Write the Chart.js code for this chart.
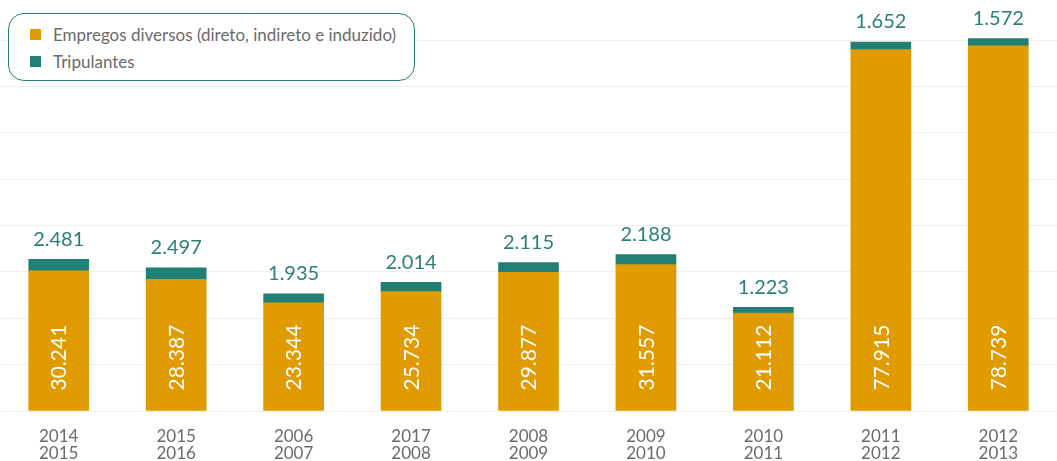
<!DOCTYPE html>
<html>
<head>
<meta charset="utf-8">
<script src="https://cdn.jsdelivr.net/npm/chart.js@4.4.1/dist/chart.umd.min.js"></script>
<style>
  body { margin: 0; background: #fff; }
  #wrap { position: relative; width: 1057px; height: 461px; }
  #legend {
    position: absolute; left: 8px; top: 13px; width: 407px; height: 68px;
    background: #fff; border: 1.5px solid #2a7f76; border-radius: 16px;
    font-family: Lato, sans-serif; font-size: 17px; color: #6b6b6b;
    box-sizing: border-box; padding-top: 7px;
  }
  .item { display: flex; align-items: center; height: 27px; padding-left: 21px; }
  .box { width: 11px; height: 11px; margin-right: 12px; }
</style>
</head>
<body>
<div id="wrap">
  <canvas id="myChart" width="1057" height="461"></canvas>
  <div id="legend"></div>
</div>
<script>
const periods = [
  ["2014", "2015"], ["2015", "2016"], ["2006", "2007"], ["2017", "2008"], ["2008", "2009"],
  ["2009", "2010"], ["2010", "2011"], ["2011", "2012"], ["2012", "2013"]
]
const seriesNames = ["Empregos diversos (direto, indireto e induzido)", "Tripulantes"]
const empregos = [30241, 28387, 23344, 25734, 29877, 31557, 21112, 77915, 78739]
const tripulantes = [2481, 2497, 1935, 2014, 2115, 2188, 1223, 1652, 1572]
const colors = ["#e09b00", "#217f74"]

function fmt(n){
    return String(n).replace(/\B(?=(\d{3})+(?!\d))/g, ".")
}

// legend box
const legend = document.getElementById("legend")
seriesNames.forEach((name, i) => {
    legend.innerHTML += `<div class="item"><span class="box" style="background:${colors[i]}"></span>${name}</div>`
})

const valueLabels = {
    id: "valueLabels",
    afterDatasetsDraw(chart){
        const ctx = chart.ctx
        ctx.save()
        chart.getDatasetMeta(0).data.forEach((bar, i) => {
            ctx.save()
            ctx.translate(bar.x, bar.base - 20)
            ctx.rotate(-Math.PI / 2)
            ctx.font = "21px Lato, sans-serif"
            ctx.fillStyle = "#ffffff"
            ctx.textAlign = "left"
            ctx.textBaseline = "middle"
            ctx.fillText(fmt(empregos[i]), 0, 1)
            ctx.restore()
        })
        chart.getDatasetMeta(1).data.forEach((bar, i) => {
            ctx.font = "20px Lato, sans-serif"
            ctx.fillStyle = "#2a7f76"
            ctx.textAlign = "center"
            ctx.textBaseline = "bottom"
            ctx.fillText(fmt(tripulantes[i]), bar.x, bar.y - 10)
        })
        ctx.restore()
    }
}

const chart = new Chart(document.getElementById("myChart"), {
    type: "bar",
    data: {
        labels: periods,
        datasets: [
            { label: seriesNames[0], data: empregos, backgroundColor: colors[0], barThickness: 60, clip: false },
            { label: seriesNames[1], data: tripulantes, backgroundColor: colors[1], barThickness: 60, clip: false }
        ]
    },
    options: {
        responsive: false,
        animation: false,
        layout: { padding: { top: 40, left: -8, right: -8, bottom: -10 } },
        plugins: { legend: { display: false }, tooltip: { enabled: false } },
        scales: {
            x: {
                stacked: true,
                grid: { display: false },
                border: { display: false },
                ticks: { color: "#6b6b6b", font: { family: "Lato", size: 17, lineHeight: 1.0 }, padding: 9, maxRotation: 0 }
            },
            y: {
                stacked: true,
                min: 0,
                max: 80000,
                grid: { color: "#eeeeee", drawTicks: false },
                border: { display: false },
                ticks: { display: false, stepSize: 10000 }
            }
        }
    },
    plugins: [valueLabels]
})
</script>
</body>
</html>
